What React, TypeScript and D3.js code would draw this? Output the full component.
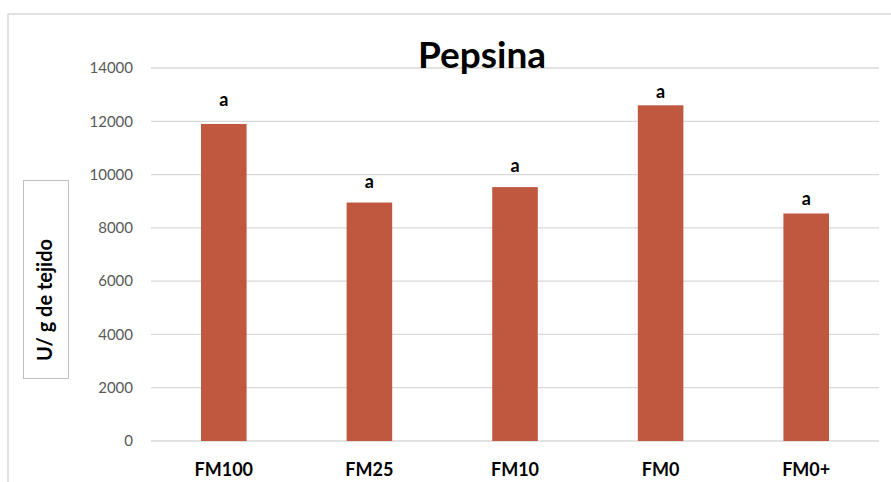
import React from "react";
import * as d3 from "d3";

const categories = ["FM100", "FM25", "FM10", "FM0", "FM0+"];
const values = [11900, 8950, 9530, 12600, 8540];
const letters = ["a", "a", "a", "a", "a"];
// value at which each significance letter sits (top of the hidden error bar)
const letterAt = [12570, 9490, 10090, 12870, 8860];
const yTicks = [0, 2000, 4000, 6000, 8000, 10000, 12000, 14000];

const W = 891;
const H = 482;
const FONT = "Lato, 'Open Sans', sans-serif";

export default function App() {
  const x = d3
    .scaleBand<string>()
    .domain(categories)
    .range([151, 879])
    .paddingInner(0.687)
    .paddingOuter(0.3435);
  const y = d3.scaleLinear().domain([0, 14000]).range([441, 68]);

  return (
    <svg
      width={W}
      height={H}
      style={{ position: "absolute", left: 0, top: 0, background: "#fff" }}
    >
      {/* chart frame */}
      <rect x={8} y={14} width={890} height={480} fill="#fff" stroke="#d9d9d9" strokeWidth={1.5} />

      {/* gridlines */}
      {yTicks.map((t) => (
        <line key={t} x1={151} x2={879} y1={y(t)} y2={y(t)} stroke="#d9d9d9" strokeWidth={1.3} />
      ))}

      {/* y tick labels */}
      {yTicks.map((t) => (
        <text
          key={"l" + t}
          x={133}
          y={y(t)}
          dy="0.35em"
          textAnchor="end"
          fontFamily={FONT}
          fontSize={15}
          fill="#595959"
        >
          {t}
        </text>
      ))}

      {/* bars */}
      {categories.map((c, i) => (
        <rect
          key={c}
          x={x(c)}
          y={y(values[i])}
          width={x.bandwidth()}
          height={y(0) - y(values[i])}
          fill="#c0573f"
        />
      ))}

      {/* significance letters */}
      {categories.map((c, i) => (
        <text
          key={"s" + c}
          x={(x(c) ?? 0) + x.bandwidth() / 2}
          y={y(letterAt[i])}
          textAnchor="middle"
          fontFamily={FONT}
          fontWeight="bold"
          fontSize={18}
          fill="#000"
        >
          {letters[i]}
        </text>
      ))}

      {/* x labels */}
      {categories.map((c) => (
        <text
          key={"x" + c}
          x={(x(c) ?? 0) + x.bandwidth() / 2}
          y={476}
          textAnchor="middle"
          fontFamily={FONT}
          fontWeight="bold"
          fontSize={18}
          fill="#000"
        >
          {c}
        </text>
      ))}

      {/* title */}
      <text
        x={482}
        y={68}
        textAnchor="middle"
        fontFamily={FONT}
        fontWeight="bold"
        fontSize={37}
        fill="#000"
      >
        Pepsina
      </text>

      {/* y axis title box */}
      <rect x={23.5} y={180.5} width={45} height={198} fill="#fff" stroke="#bfbfbf" strokeWidth={1} />
      <text
        transform="translate(52,300) rotate(-90)"
        textAnchor="middle"
        fontFamily={FONT}
        fontWeight="bold"
        fontSize={20}
        fill="#000"
      >
        U/ g de tejido
      </text>
    </svg>
  );
}
